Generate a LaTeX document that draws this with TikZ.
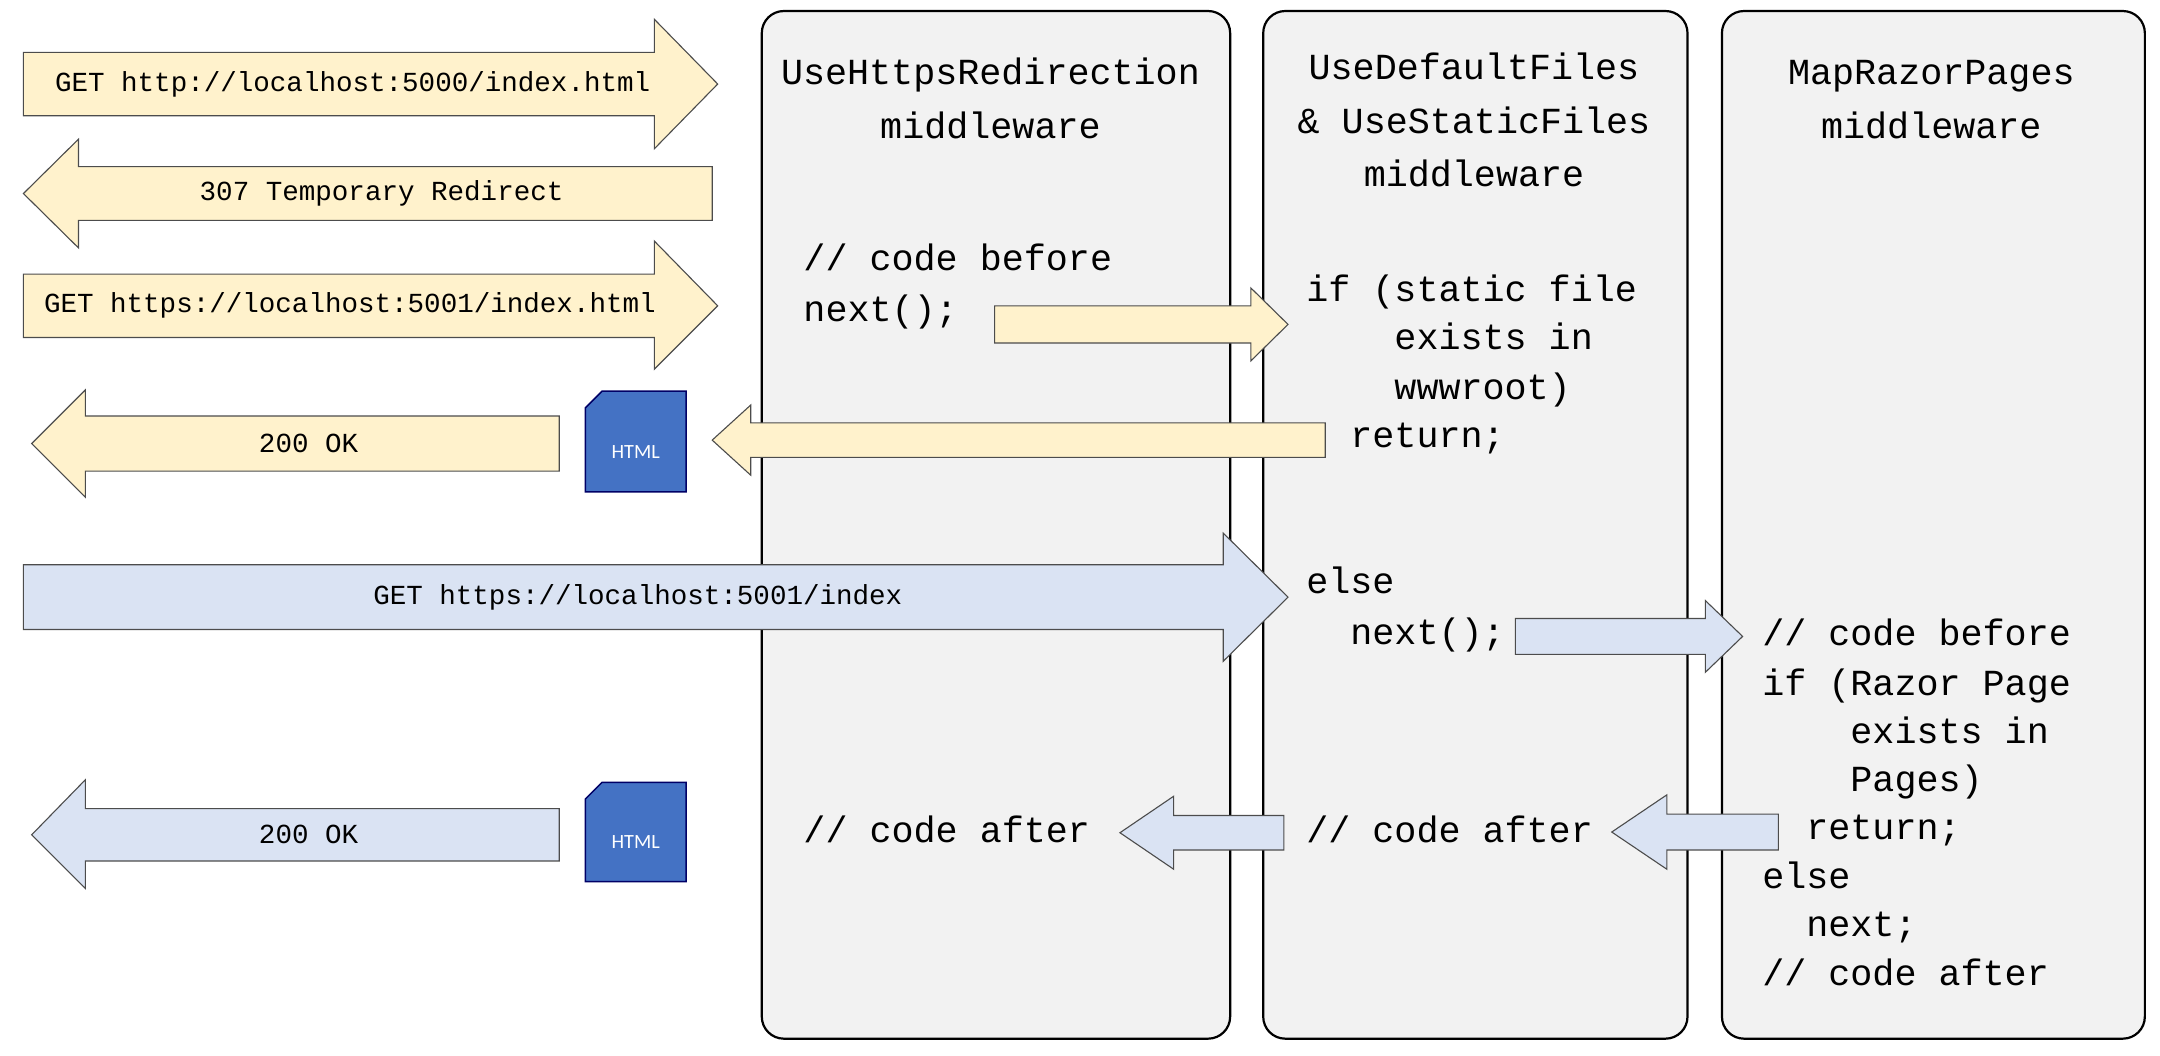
\documentclass[tikz,border=0pt]{standalone}
\usepackage{fontspec}
\setmainfont{Carlito}
\newfontfamily\mono{Liberation Mono}
\begin{document}
\begin{tikzpicture}[x=0.75pt,y=-0.75pt,
  panel/.style={draw=black,line width=1.2pt,fill=gray!10,rounded corners=12pt},
  yel/.style={draw=black!70,line width=0.6pt,fill=yellow!20!orange!12!white,fill=yfill},
  blu/.style={draw=black!70,line width=0.6pt,fill=bfill},
  big/.style={font=\mono\fontsize{20}{28}\selectfont,inner sep=0pt,text height=14pt,text depth=4pt},
  sm/.style={font=\mono\fontsize{15}{18}\selectfont,inner sep=0pt},
  doc/.style={draw=black!60!blue,line width=0.8pt,fill=docblue}]
\definecolor{yfill}{HTML}{FFF2CC}
\definecolor{bfill}{HTML}{DAE3F3}
\definecolor{docblue}{HTML}{4472C4}
\useasboundingbox (0,0) rectangle (1568,766);
% panels
\draw[panel] (553,8) rectangle (893,754);
\draw[panel] (917,8) rectangle (1225,754);
\draw[panel] (1250,8) rectangle (1557,754);
% titles
\node[big] (t1a) at (719,55) {UseHttpsRedirection};
\node[big] (t1b) at (719,94) {middleware};
\node[big] (t2a) at (1070,51) {UseDefaultFiles};
\node[big] (t2b) at (1070,90) {\& UseStaticFiles};
\node[big] (t2c) at (1070,129) {middleware};
\node[big] (t3a) at (1402,55) {MapRazorPages};
\node[big] (t3b) at (1402,94) {middleware};
% code panel 1
\node[big,anchor=west] (c1) at (583,190) {// code before};
\node[big,anchor=west] (c2) at (583,227) {next();};
\node[big,anchor=west] (c3) at (583,605) {// code after};
% code panel 2
\node[big,anchor=west] (d1) at (948,212) {if (static file};
\node[big,anchor=west] (d2) at (1012,247) {exists in};
\node[big,anchor=west] (d3) at (1012,283) {wwwroot)};
\node[big,anchor=west] (d4) at (980,318) {return;};
\node[big,anchor=west] (d5) at (948,424) {else};
\node[big,anchor=west] (d6) at (980,461) {next();};
\node[big,anchor=west] (d7) at (948,605) {// code after};
% code panel 3
\node[big,anchor=west] (e1) at (1279,462) {// code before};
\node[big,anchor=west] (e2) at (1279,498) {if (Razor Page};
\node[big,anchor=west] (e3) at (1343,533) {exists in};
\node[big,anchor=west] (e4) at (1343,568) {Pages)};
\node[big,anchor=west] (e5) at (1311,603) {return;};
\node[big,anchor=west] (e6) at (1279,638) {else};
\node[big,anchor=west] (e7) at (1311,673) {next;};
\node[big,anchor=west] (e8) at (1279,709) {// code after};
% arrows: right
\draw[yel] (17,38) -- (475,38) -- (475,14) -- (521,61) -- (475,108) -- (475,84) -- (17,84) -- cycle;
\draw[yel] (57,121) -- (517,121) -- (517,160) -- (57,160) -- (57,180) -- (17,140.5) -- (57,101) -- cycle;
\draw[yel] (17,199) -- (475,199) -- (475,175) -- (521,222) -- (475,268) -- (475,245) -- (17,245) -- cycle;
\draw[yel] (62,302) -- (406,302) -- (406,342) -- (62,342) -- (62,361) -- (23,322) -- (62,283) -- cycle;
\draw[yel] (545,307) -- (962,307) -- (962,332) -- (545,332) -- (545,345) -- (517,319.5) -- (545,294) -- cycle;
\draw[yel] (722,222) -- (908,222) -- (908,209) -- (935,235.5) -- (908,262) -- (908,249) -- (722,249) -- cycle;
\draw[blu] (17,410) -- (888,410) -- (888,387) -- (935,433.5) -- (888,480) -- (888,457) -- (17,457) -- cycle;
\draw[blu] (1100,449) -- (1238,449) -- (1238,436) -- (1265,462) -- (1238,488) -- (1238,475) -- (1100,475) -- cycle;
\draw[blu] (852,592) -- (932,592) -- (932,617) -- (852,617) -- (852,631) -- (813,604.5) -- (852,578) -- cycle;
\draw[blu] (1210,591) -- (1291,591) -- (1291,617) -- (1210,617) -- (1210,631) -- (1170,604) -- (1210,577) -- cycle;
\draw[blu] (62,587) -- (406,587) -- (406,625) -- (62,625) -- (62,645) -- (23,606) -- (62,566) -- cycle;
% arrow labels
\node[sm] (l1) at (256,61) {GET http://localhost:5000/index.html};
\node[sm] (l2) at (277,140.5) {307 Temporary Redirect};
\node[sm] (l3) at (254,222) {GET https://localhost:5001/index.html};
\node[sm] (l4) at (224,322) {200 OK};
\node[sm] (l5) at (463,433.5) {GET https://localhost:5001/index};
\node[sm] (l6) at (224,606) {200 OK};
% HTML docs
\draw[doc] (437,284) -- (498,284) -- (498,357) -- (425,357) -- (425,296) -- cycle;
\node[text=white,font=\fontsize{11}{13}\selectfont] (h1) at (461.5,328) {HTML};
\draw[doc] (437,568) -- (498,568) -- (498,640) -- (425,640) -- (425,580) -- cycle;
\node[text=white,font=\fontsize{11}{13}\selectfont] (h2) at (461.5,611) {HTML};
\end{tikzpicture}
\end{document}
